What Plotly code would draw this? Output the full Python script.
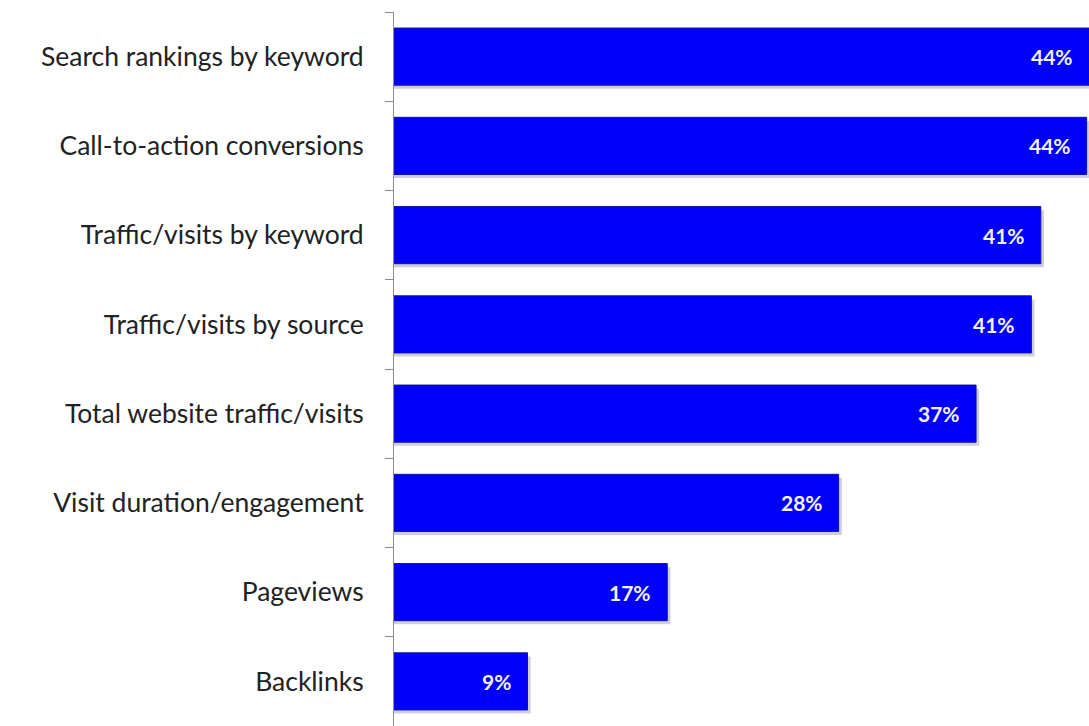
import plotly.graph_objects as go

categories = [
    "Search rankings by keyword",
    "Call-to-action conversions",
    "Traffic/visits by keyword",
    "Traffic/visits by source",
    "Total website traffic/visits",
    "Visit duration/engagement",
    "Pageviews",
    "Backlinks",
]
values = [44.0, 43.85, 40.95, 40.35, 36.85, 28.15, 17.3, 8.45]
value_labels = ["44%", "44%", "41%", "41%", "37%", "28%", "17%", "9%"]

BAR_W = 0.64
fig = go.Figure()

# soft drop shadow
fig.add_trace(go.Bar(
    y=categories, x=[v + 0.2 for v in values], orientation="h",
    width=BAR_W, offset=-BAR_W / 2 + 0.04,
    marker=dict(color="rgba(90,90,140,0.30)", line=dict(width=0)),
    hoverinfo="skip", showlegend=False,
))
fig.add_trace(go.Bar(
    y=categories, x=values, orientation="h",
    width=BAR_W, offset=-BAR_W / 2,
    marker=dict(color="#0000FA", line=dict(color="#1010A0", width=1)),
    showlegend=False,
))

for c, v, t in zip(categories, values, value_labels):
    fig.add_annotation(
        x=v, y=c, text=t, showarrow=False, xanchor="right", xshift=-14,
        font=dict(family="Lato", size=21, color="#F2F2F2", weight="bold"),
    )

fig.update_layout(
    width=1089, height=726,
    margin=dict(l=394, r=0, t=12, b=0),
    paper_bgcolor="white", plot_bgcolor="white",
    barmode="overlay",
    xaxis=dict(range=[0, 44.0], visible=False, showgrid=False, zeroline=False),
    yaxis=dict(
        categoryorder="array", categoryarray=categories, autorange="reversed",
        showline=True, linecolor="#8C8C8C", linewidth=1,
        ticks="outside", ticklen=8, tickcolor="#8C8C8C", tickson="boundaries",
        ticklabelstandoff=24,
        tickfont=dict(family="Lato", size=26.5, color="#222222"),
        showgrid=False,
    ),
)

fig.write_html("out.html", config={"displayModeBar": False},
               post_script="document.body.style.margin='0';")
